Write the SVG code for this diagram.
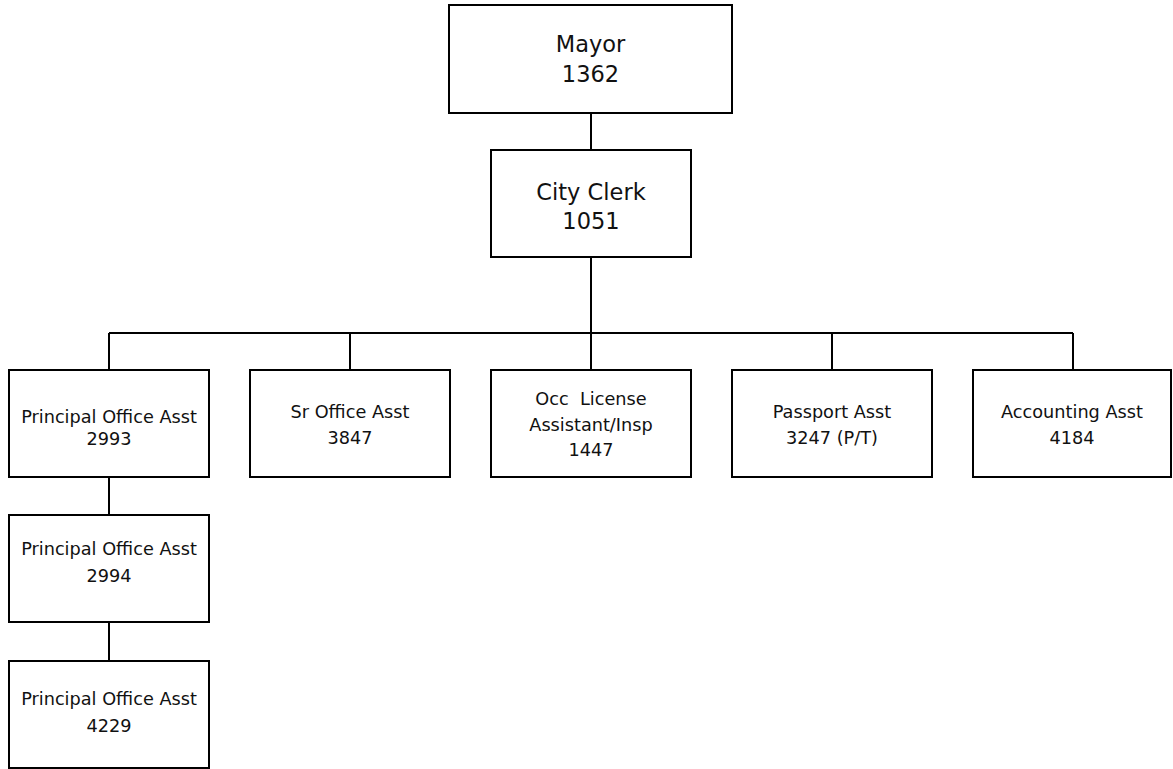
<svg xmlns="http://www.w3.org/2000/svg" width="1173" height="769" viewBox="0 0 1173 769">
<style>
.box{fill:#fff;stroke:#000;stroke-width:2}
.con{fill:none;stroke:#000;stroke-width:2}
text{font-family:"DejaVu Sans","Liberation Sans",sans-serif;fill:#111;text-anchor:middle}
.big{font-size:22.5px}
.sm{font-size:17.7px}
</style>
<rect width="1173" height="769" fill="#fff"/>
<g id="connectors">
<path class="con" d="M591 113V150M591 257V333M109 333H1073M109 333V370M350 333V370M591 333V370M832 333V370M1073 333V370M109 477V515M109 622V661"/>
</g>
<g id="mayor"><rect class="box" x="449" y="5" width="283" height="108"/>
<text class="big" x="590.5" y="52">Mayor</text><text class="big" x="590.5" y="82">1362</text></g>
<g id="cityclerk"><rect class="box" x="491" y="150" width="200" height="107"/>
<text class="big" x="591" y="200">City Clerk</text><text class="big" x="591" y="229">1051</text></g>
<g id="poa2993"><rect class="box" x="9" y="370" width="200" height="107"/>
<text class="sm" x="109" y="423">Principal Office Asst</text><text class="sm" x="109" y="445">2993</text></g>
<g id="soa3847"><rect class="box" x="250" y="370" width="200" height="107"/>
<text class="sm" x="350" y="418">Sr Office Asst</text><text class="sm" x="350" y="444">3847</text></g>
<g id="occ1447"><rect class="box" x="491" y="370" width="200" height="107"/>
<text class="sm" x="591" y="405" xml:space="preserve">Occ  License</text><text class="sm" x="591" y="431">Assistant/Insp</text><text class="sm" x="591" y="456">1447</text></g>
<g id="passport3247"><rect class="box" x="732" y="370" width="200" height="107"/>
<text class="sm" x="832" y="418">Passport Asst</text><text class="sm" x="832" y="444">3247 (P/T)</text></g>
<g id="acct4184"><rect class="box" x="973" y="370" width="198" height="107"/>
<text class="sm" x="1072" y="418">Accounting Asst</text><text class="sm" x="1072" y="444">4184</text></g>
<g id="poa2994"><rect class="box" x="9" y="515" width="200" height="107"/>
<text class="sm" x="109" y="555">Principal Office Asst</text><text class="sm" x="109" y="582">2994</text></g>
<g id="poa4229"><rect class="box" x="9" y="661" width="200" height="107"/>
<text class="sm" x="109" y="705">Principal Office Asst</text><text class="sm" x="109" y="732">4229</text></g>
</svg>
